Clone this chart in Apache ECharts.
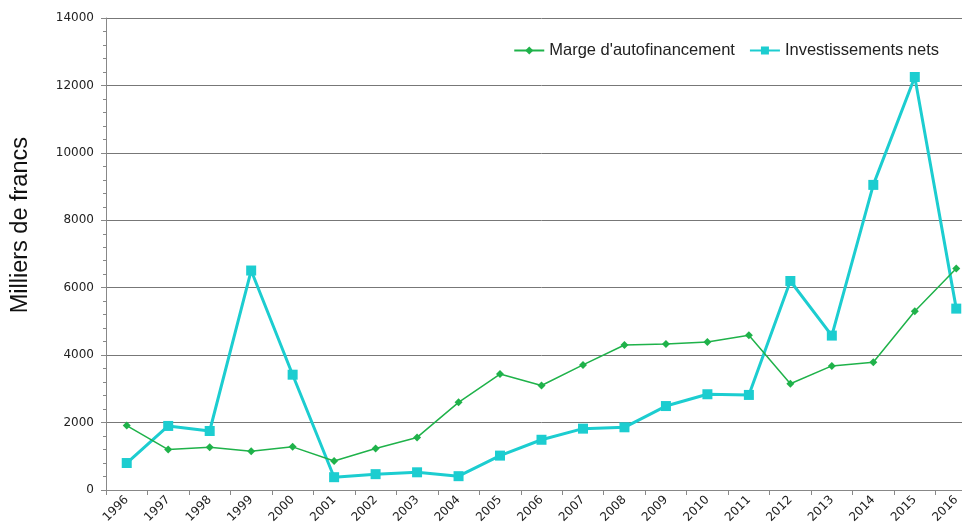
<!DOCTYPE html>
<html><head><meta charset="utf-8">
<script src="https://cdn.jsdelivr.net/npm/echarts@6/dist/echarts.min.js"></script>
<style>html,body{margin:0;padding:0;background:#fff;overflow:hidden}#c{width:977px;height:530px}</style>
</head><body><div id="c"></div>
<script>
const years = ['1996','1997','1998','1999','2000','2001','2002','2003','2004','2005','2006','2007','2008','2009','2010','2011','2012','2013','2014','2015','2016'];
const marge = [1910,1200,1270,1150,1280,860,1230,1560,2600,3440,3100,3710,4300,4330,4390,4590,3150,3680,3790,5300,6570];
const invest = [800,1900,1750,6510,3420,380,470,525,410,1020,1490,1820,1860,2490,2840,2820,6200,4580,9050,12250,5380];
const yTicks = {min:0, max:14000, interval:2000};
const font = '"DejaVu Sans", Verdana, sans-serif';
const chart = echarts.init(document.getElementById('c'));
chart.setOption({
  animation:false,
  backgroundColor:'#fff',
  grid:{left:106, top:18, bottom:40, right:0},
  legend:{
    top:37, right:33, itemWidth:30, itemHeight:10, itemGap:14,
    textStyle:{fontFamily:'"Liberation Sans", sans-serif', fontSize:16.5, color:'#222'},
    data:['Marge d\'autofinancement','Investissements nets']
  },
  graphic:[{type:'text', left:9, top:137, style:{text:'Milliers de francs', font:'23.5px "Liberation Sans", sans-serif', fill:'#111'}, rotation:Math.PI/2}],
  xAxis:{
    type:'category', data:years, boundaryGap:true,
    axisLine:{lineStyle:{color:'#888', width:1}},
    axisTick:{show:true, length:5, lineStyle:{color:'#888'}},
    axisLabel:{rotate:45, fontFamily:font, fontSize:12, color:'#222', margin:8, interval:0}
  },
  yAxis:{
    type:'value', min:yTicks.min, max:yTicks.max, interval:yTicks.interval,
    axisLine:{show:true, lineStyle:{color:'#888'}},
    axisTick:{show:true, length:5, lineStyle:{color:'#888'}},
    minorTick:{show:true, splitNumber:5, length:3, lineStyle:{color:'#888'}},
    splitLine:{lineStyle:{color:'#777', width:1}},
    axisLabel:{fontFamily:font, fontSize:12, color:'#222', margin:12, formatter:v=>String(v)}
  },
  series:[
    {name:'Marge d\'autofinancement', type:'line', data:marge, symbol:'diamond', symbolSize:8,
     lineStyle:{color:'#1fb24a', width:1.5}, itemStyle:{color:'#1fb24a'}, z:3},
    {name:'Investissements nets', type:'line', data:invest, symbol:'rect', symbolSize:10,
     lineStyle:{color:'#1ccdd0', width:3}, itemStyle:{color:'#1ccdd0'}, z:2}
  ]
});
</script></body></html>
